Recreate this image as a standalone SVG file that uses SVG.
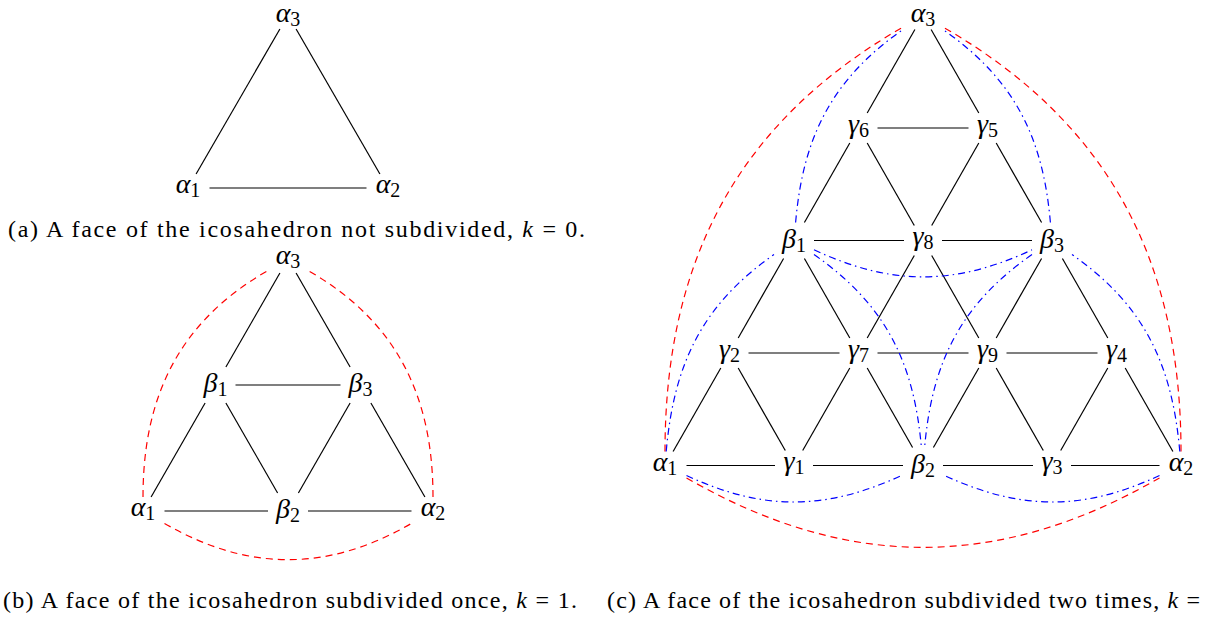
<svg xmlns="http://www.w3.org/2000/svg" width="1206" height="617" viewBox="0 0 1206 617">
<defs><style>
.e{stroke:#000;stroke-width:1.2;fill:none}
.r{stroke:#ff0000;stroke-width:1.2;fill:none;stroke-dasharray:7 5}
.b{stroke:#0000ff;stroke-width:1.2;fill:none;stroke-dasharray:7 4 1.5 4}
text{font-family:"Liberation Serif",serif}
.l{font-style:italic;font-size:28px;text-anchor:middle;fill:#000}
.s{font-style:normal;font-size:20px}
.cap{font-size:24px;fill:#000}
.k{font-style:italic}
</style></defs>
<rect width="1206" height="617" fill="#fff"/>
<g id="connectors">
<line class="e" x1="209.5" y1="188" x2="366.5" y2="188"/>
<line class="e" x1="196.1" y1="174" x2="279.9" y2="29"/>
<line class="e" x1="379.9" y1="174" x2="296.1" y2="29"/>
<line class="e" x1="164.5" y1="511" x2="268" y2="511"/>
<line class="e" x1="308" y1="511" x2="411.5" y2="511"/>
<line class="e" x1="235.5" y1="385" x2="340.5" y2="385"/>
<line class="e" x1="151.1" y1="497" x2="205.1" y2="403"/>
<line class="e" x1="298.4" y1="493" x2="350.1" y2="403"/>
<line class="e" x1="225.9" y1="367" x2="279.9" y2="273"/>
<line class="e" x1="277.6" y1="493" x2="225.9" y2="403"/>
<line class="e" x1="424.9" y1="497" x2="370.9" y2="403"/>
<line class="e" x1="350.1" y1="367" x2="296.1" y2="273"/>
<path class="r" d="M164.5,523.4 C248.2,571.8 327.8,571.8 411.5,523.4"/>
<path class="r" d="M143,497 C143,396.3 179.3,321.8 266.5,271.4"/>
<path class="r" d="M433,497 C433,396.3 396.7,321.8 309.5,271.4"/>
<line class="e" x1="686.5" y1="465.5" x2="775" y2="465.5"/>
<line class="e" x1="813" y1="465.5" x2="903" y2="465.5"/>
<line class="e" x1="943" y1="465.5" x2="1033" y2="465.5"/>
<line class="e" x1="1071" y1="465.5" x2="1159.5" y2="465.5"/>
<line class="e" x1="748.5" y1="353" x2="839.5" y2="353"/>
<line class="e" x1="877.5" y1="353" x2="968.5" y2="353"/>
<line class="e" x1="1006.5" y1="353" x2="1097.5" y2="353"/>
<line class="e" x1="814" y1="240.5" x2="904" y2="240.5"/>
<line class="e" x1="942" y1="240.5" x2="1032" y2="240.5"/>
<line class="e" x1="877.5" y1="128" x2="968.5" y2="128"/>
<line class="e" x1="673.1" y1="451.5" x2="720.8" y2="368"/>
<line class="e" x1="802.7" y1="450.5" x2="849.8" y2="368"/>
<line class="e" x1="933.4" y1="447.5" x2="978.8" y2="368"/>
<line class="e" x1="1060.7" y1="450.5" x2="1107.8" y2="368"/>
<line class="e" x1="738.2" y1="338" x2="783.6" y2="258.5"/>
<line class="e" x1="867.2" y1="338" x2="914.3" y2="255.5"/>
<line class="e" x1="996.2" y1="338" x2="1041.6" y2="258.5"/>
<line class="e" x1="804.4" y1="222.5" x2="849.8" y2="143"/>
<line class="e" x1="931.7" y1="225.5" x2="978.8" y2="143"/>
<line class="e" x1="867.2" y1="113" x2="914.9" y2="29.5"/>
<line class="e" x1="785.3" y1="450.5" x2="738.2" y2="368"/>
<line class="e" x1="912.6" y1="447.5" x2="867.2" y2="368"/>
<line class="e" x1="1043.3" y1="450.5" x2="996.2" y2="368"/>
<line class="e" x1="1172.9" y1="451.5" x2="1125.2" y2="368"/>
<line class="e" x1="849.8" y1="338" x2="804.4" y2="258.5"/>
<line class="e" x1="978.8" y1="338" x2="931.7" y2="255.5"/>
<line class="e" x1="1107.8" y1="338" x2="1062.4" y2="258.5"/>
<line class="e" x1="914.3" y1="225.5" x2="867.2" y2="143"/>
<line class="e" x1="1041.6" y1="222.5" x2="996.2" y2="143"/>
<line class="e" x1="978.8" y1="113" x2="931.1" y2="29.5"/>
<path class="r" d="M686.5,477.9 C846.9,570.5 999.1,570.5 1159.5,477.9"/>
<path class="r" d="M665,451.5 C665,261.5 737,122.9 901.5,27.9"/>
<path class="r" d="M1181,451.5 C1181,261.5 1109,122.9 944.5,27.9"/>
<path class="b" d="M666.2,451.5 C673.9,363.9 702,304.9 774,254.5"/>
<path class="b" d="M795.6,222.5 C803.1,136.3 832.1,79.1 903,29.5"/>
<path class="b" d="M1050.4,222.5 C1042.9,136.3 1013.9,79.1 943,29.5"/>
<path class="b" d="M1179.8,451.5 C1172.1,363.9 1144,304.9 1072,254.5"/>
<path class="b" d="M686.5,475.5 C763.3,511.3 826.2,510.6 903,474.8"/>
<path class="b" d="M1159.5,475.5 C1082.7,511.3 1019.8,510.6 943,474.8"/>
<path class="b" d="M814,249.8 C891.3,285.9 954.7,285.9 1032,249.8"/>
<path class="b" d="M814,254.5 C884.9,304.1 913.9,361.3 921.4,447.5"/>
<path class="b" d="M1032,254.5 C961.1,304.1 932.1,361.3 924.6,447.5"/>
</g>
<g id="a-alpha1"><text class="l" x="188" y="193">α<tspan class="s" dy="4">1</tspan></text></g>
<g id="a-alpha2"><text class="l" x="388" y="193">α<tspan class="s" dy="4">2</tspan></text></g>
<g id="a-alpha3"><text class="l" x="288" y="22">α<tspan class="s" dy="4">3</tspan></text></g>
<g id="b-alpha1"><text class="l" x="143" y="516">α<tspan class="s" dy="4">1</tspan></text></g>
<g id="b-beta2"><text class="l" x="288" y="518">β<tspan class="s" dy="4">2</tspan></text></g>
<g id="b-alpha2"><text class="l" x="433" y="516">α<tspan class="s" dy="4">2</tspan></text></g>
<g id="b-beta1"><text class="l" x="215.5" y="392">β<tspan class="s" dy="4">1</tspan></text></g>
<g id="b-beta3"><text class="l" x="360.5" y="392">β<tspan class="s" dy="4">3</tspan></text></g>
<g id="b-alpha3"><text class="l" x="288" y="264">α<tspan class="s" dy="4">3</tspan></text></g>
<g id="c-alpha1"><text class="l" x="665" y="470.5">α<tspan class="s" dy="4">1</tspan></text></g>
<g id="c-gamma1"><text class="l" x="794" y="470">γ<tspan class="s" dy="4">1</tspan></text></g>
<g id="c-beta2"><text class="l" x="923" y="472.5">β<tspan class="s" dy="4">2</tspan></text></g>
<g id="c-gamma3"><text class="l" x="1052" y="470">γ<tspan class="s" dy="4">3</tspan></text></g>
<g id="c-alpha2"><text class="l" x="1181" y="470.5">α<tspan class="s" dy="4">2</tspan></text></g>
<g id="c-gamma2"><text class="l" x="729.5" y="357.5">γ<tspan class="s" dy="4">2</tspan></text></g>
<g id="c-gamma7"><text class="l" x="858.5" y="357.5">γ<tspan class="s" dy="4">7</tspan></text></g>
<g id="c-gamma9"><text class="l" x="987.5" y="357.5">γ<tspan class="s" dy="4">9</tspan></text></g>
<g id="c-gamma4"><text class="l" x="1116.5" y="357.5">γ<tspan class="s" dy="4">4</tspan></text></g>
<g id="c-beta1"><text class="l" x="794" y="247.5">β<tspan class="s" dy="4">1</tspan></text></g>
<g id="c-gamma8"><text class="l" x="923" y="245">γ<tspan class="s" dy="4">8</tspan></text></g>
<g id="c-beta3"><text class="l" x="1052" y="247.5">β<tspan class="s" dy="4">3</tspan></text></g>
<g id="c-gamma6"><text class="l" x="858.5" y="132.5">γ<tspan class="s" dy="4">6</tspan></text></g>
<g id="c-gamma5"><text class="l" x="987.5" y="132.5">γ<tspan class="s" dy="4">5</tspan></text></g>
<g id="c-alpha3"><text class="l" x="923" y="22">α<tspan class="s" dy="4">3</tspan></text></g>
<text class="cap" x="8" y="237" textLength="577" lengthAdjust="spacing">(a) A face of the icosahedron not subdivided, <tspan class="k">k</tspan> = 0.</text>
<text class="cap" x="3" y="608" textLength="574" lengthAdjust="spacing">(b) A face of the icosahedron subdivided once, <tspan class="k">k</tspan> = 1.</text>
<text class="cap" x="607" y="608" textLength="593" lengthAdjust="spacing">(c) A face of the icosahedron subdivided two times, <tspan class="k">k</tspan> =</text>
</svg>
